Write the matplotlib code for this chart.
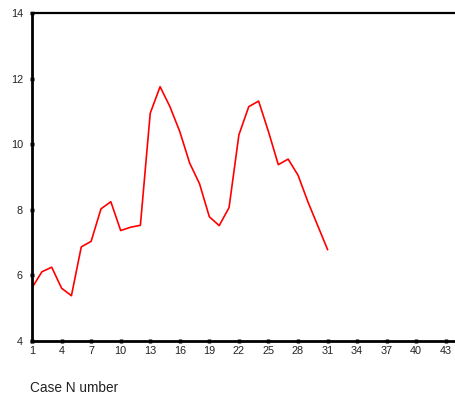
import matplotlib
matplotlib.use('Agg')
import matplotlib.pyplot as plt

case_number = list(range(1, 32))
values = [5.62, 6.11, 6.25, 5.61, 5.38, 6.87, 7.04, 8.03, 8.25, 7.37,
          7.47, 7.53, 10.95, 11.76, 11.15, 10.39, 9.43, 8.80, 7.79, 7.52,
          8.07, 10.29, 11.15, 11.32, 10.39, 9.38, 9.55, 9.06, 8.25, 7.52,
          6.79]
x_ticks = list(range(1, 44, 3))
y_ticks = [4, 6, 8, 10, 12, 14]

plt.rcParams['font.family'] = ['Liberation Sans', 'DejaVu Sans']

fig = plt.figure(figsize=(4.56, 4.03), dpi=100)
ax = fig.add_axes([0.0702, 0.154, 0.929, 0.813])

ax.plot(case_number, values, color='#ff0000', linewidth=1.2)

ax.set_xlim(1, 44)
ax.set_ylim(4, 14)
ax.set_xticks(x_ticks)
ax.set_yticks(y_ticks)
ax.tick_params(axis='both', direction='inout', length=3, width=2.5,
               labelsize=7.8, colors='black', labelcolor='#222222')
ax.tick_params(axis='x', pad=2.5)
ax.tick_params(axis='y', pad=5)

for side in ['left', 'bottom']:
    ax.spines[side].set_linewidth(2.0)
ax.spines['top'].set_linewidth(1.6)
ax.spines['right'].set_linewidth(1.0)

fig.text(30 / 456, 1 - 388 / 403, 'Case N umber', fontsize=9.8,
         ha='left', va='center', color='#222222')

fig.savefig('out.png', dpi=100)
